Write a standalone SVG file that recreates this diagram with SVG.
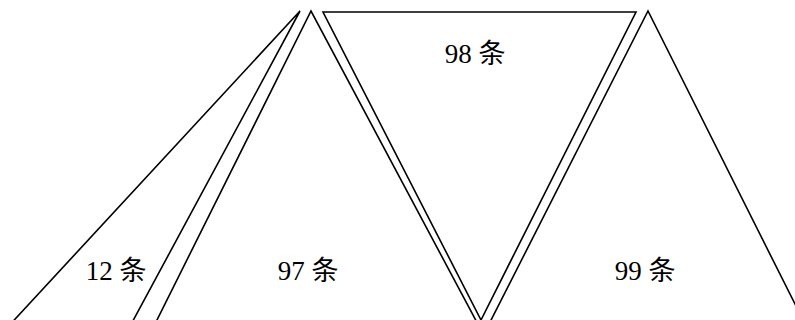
<svg xmlns="http://www.w3.org/2000/svg" width="795" height="320" viewBox="0 0 795 320">
<style>
.tri{fill:none;stroke:#000;stroke-width:1.6;stroke-linejoin:miter}
.lbl{font-family:"Liberation Serif","Noto Sans CJK SC",serif;font-size:27px;fill:#000;text-anchor:middle}
</style>
<rect width="795" height="320" fill="#fff"/>
<g id="tri12">
<path class="tri" d="M5,330 L300,11 L128,330"/>
<text class="lbl" x="116" y="280">12 条</text>
</g>
<g id="tri97">
<path class="tri" d="M152,330 L311,11 L481,330"/>
<text class="lbl" x="308" y="280">97 条</text>
</g>
<g id="tri98">
<path class="tri" d="M323,12 L636,12 L481,320 Z"/>
<text class="lbl" x="475" y="63">98 条</text>
</g>
<g id="tri99">
<path class="tri" d="M486,330 L648,11 L808,330"/>
<text class="lbl" x="645" y="280">99 条</text>
</g>
</svg>
